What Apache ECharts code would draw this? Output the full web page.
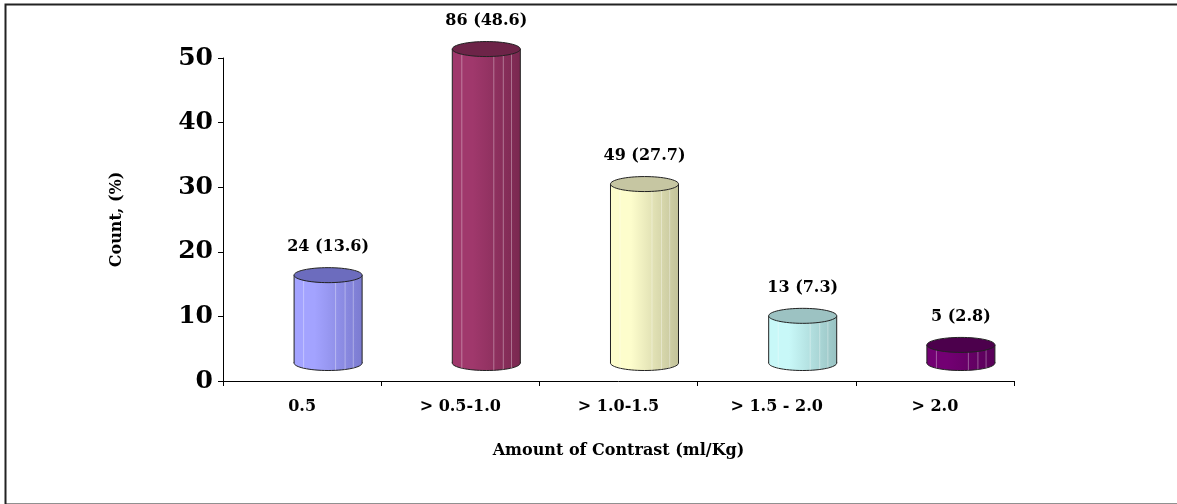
<!DOCTYPE html>
<html>
<head>
<meta charset="utf-8">
<script src="https://cdn.jsdelivr.net/npm/echarts@6/dist/echarts.min.js"></script>
<style>
  html, body { margin: 0; padding: 0; background: #fff; }
  #chart { width: 1177px; height: 504px; }
</style>
</head>
<body>
<div id="chart"></div>
<script>
// data
var categories = ["0.5", "> 0.5-1.0", "> 1.0-1.5", "> 1.5 - 2.0", "> 2.0"]
var counts = [24, 86, 49, 13, 5]
var percents = [13.6, 48.6, 27.7, 7.3, 2.8]
var yTicks = [0, 10, 20, 30, 40, 50]

// excel-ish cylinder colours: [front light, front dark, top]
var barColors = [
    ["#a3a3ff", "#7b7bd0", "#6c6cbe"],
    ["#a0386c", "#7a2850", "#6d2448"],
    ["#fdfdcc", "#c2c29a", "#c6c6a2"],
    ["#c8f8f8", "#98c2c2", "#9cc2c2"],
    ["#730073", "#580058", "#4c004c"]
]

var serif = "DejaVu Serif"
var DX = 26   // depth shift of the cylinders
var DY = -18
var RY = 7.5
var stripes = [0.14, 0.61, 0.75, 0.87]

function renderCylinder(params, api) {
    var i = params.dataIndex
    var base = api.coord([i, 0])
    var top = api.coord([i, api.value(1)])
    var band = api.size([1, 0])[0]
    var w = band * 0.43
    var cx = base[0] + DX
    var yb = base[1] + DY
    var yt = top[1] + DY
    var x0 = cx - w / 2
    var c = barColors[i]
    var grad = new echarts.graphic.LinearGradient(0, 0, 1, 0, [
        { offset: 0, color: c[0] },
        { offset: 0.3, color: c[0] },
        { offset: 1, color: c[1] }
    ])
    var children = [
        { type: "ellipse", shape: { cx: cx, cy: yb, rx: w / 2, ry: RY },
          style: { fill: grad, stroke: "#222", lineWidth: 1 } },
        { type: "rect", shape: { x: x0, y: yt, width: w, height: yb - yt },
          style: { fill: grad } }
    ]
    stripes.forEach(function (f) {
        var x = x0 + w * f
        var t = (x - cx) / (w / 2)
        var yEnd = yb + RY * Math.sqrt(Math.max(0, 1 - t * t))
        children.push({ type: "line", shape: { x1: x, y1: yt, x2: x, y2: yEnd },
            style: { stroke: "rgba(255,255,255,0.35)", lineWidth: 1 } })
    })
    children.push(
        { type: "line", shape: { x1: x0, y1: yt, x2: x0, y2: yb }, style: { stroke: "#222", lineWidth: 1 } },
        { type: "line", shape: { x1: x0 + w, y1: yt, x2: x0 + w, y2: yb }, style: { stroke: "#222", lineWidth: 1 } },
        { type: "ellipse", shape: { cx: cx, cy: yt, rx: w / 2, ry: RY },
          style: { fill: c[2], stroke: "#222", lineWidth: 1 } },
        { type: "text", x: cx, y: yt - 28,
          style: { text: counts[i] + " (" + percents[i] + ")", fill: "#000",
                   font: "bold 16px '" + serif + "'", align: "center", verticalAlign: "middle" } }
    )
    return { type: "group", children: children }
}

var chart = echarts.init(document.getElementById("chart"))
var option = {
    animation: false,
    backgroundColor: "#fff",
    graphic: [{
        type: "rect", left: 3, top: 2,
        shape: { width: 1190, height: 500 },
        style: { fill: "none", stroke: "#222", lineWidth: 2 },
        silent: true
    }],
    grid: { left: 223, right: 163, top: 58, bottom: 123 },
    xAxis: {
        type: "category",
        data: categories,
        name: "Amount of Contrast (ml/Kg)",
        nameLocation: "middle",
        nameGap: 62,
        nameTextStyle: { fontFamily: serif, fontWeight: "bold", fontSize: 16, color: "#000" },
        axisLine: { lineStyle: { color: "#000", width: 1 } },
        axisTick: { show: true, length: 5, alignWithLabel: false, lineStyle: { color: "#000" } },
        axisLabel: { fontFamily: serif, fontWeight: "bold", fontSize: 16, color: "#000", margin: 18, interval: 0 }
    },
    yAxis: {
        type: "value",
        min: yTicks[0],
        max: yTicks[yTicks.length - 1],
        interval: 10,
        name: "Count, (%)",
        nameLocation: "middle",
        nameGap: 98,
        nameTextStyle: { fontFamily: serif, fontWeight: "bold", fontSize: 16, color: "#000" },
        axisLine: { show: true, lineStyle: { color: "#000", width: 1 } },
        axisTick: { show: true, length: 5, lineStyle: { color: "#000" } },
        splitLine: { show: false },
        axisLabel: { fontFamily: serif, fontWeight: "bold", fontSize: 25, color: "#000", margin: 10 }
    },
    series: [{
        type: "custom",
        renderItem: renderCylinder,
        data: percents.map(function (v, i) { return [i, v] }),
        encode: { x: 0, y: 1 },
        clip: false
    }]
}
chart.setOption(option)
</script>
</body>
</html>
